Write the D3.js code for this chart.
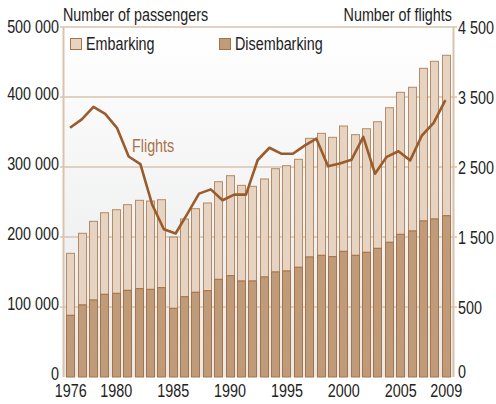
<!DOCTYPE html>
<html lang="en">
<head>
<meta charset="UTF-8">
<title>Passengers and flights</title>
<style>
  body { margin: 0; background: #fff; }
  svg text { font-family: "Liberation Sans", Arial, sans-serif; font-size: 17.5px; fill: #222; }
</style>
</head>
<body>
<div id="chart"></div>
<script src="https://d3js.org/d3.v7.min.js"></script>
<script>
const w = 496;
const h = 404;
const narrow = 0.82; // no condensed font here, so squeeze the glyphs

const years = d3.range(1976, 2010);
const disembarking = [88100, 102900, 110000, 118100, 119500, 123800, 126200, 125200, 127600, 98100,
  114700, 121000, 123300, 139500, 144700, 137100, 137100, 142900, 150000, 151400,
  156700, 171400, 173800, 171900, 179500, 173800, 178100, 183800, 192400, 203800,
  208600, 222900, 225700, 230400];
const embarking = [88600, 102400, 112400, 116600, 119500, 122400, 126200, 126200, 125700, 101900,
  111000, 119500, 125300, 139500, 142900, 136700, 135300, 140000, 147600, 150500,
  154300, 169600, 174300, 170500, 179100, 172400, 176600, 180900, 192300, 202900,
  205300, 218100, 225300, 229200];
// the flights line has one point less than the bars
const flights = [3060, 3180, 3360, 3260, 3060, 2650, 2540, 1965, 1610, 1550,
  1830, 2120, 2180, 2025, 2105, 2105, 2600, 2775, 2690, 2690,
  2805, 2905, 2510, 2550, 2605, 2930, 2405, 2645, 2725, 2595,
  2950, 3130, 3455];
const passTicks = [0, 100000, 200000, 300000, 400000, 500000];
const flightTicks = [0, 500, 1500, 2500, 3500, 4500];
const yearTicks = [1976, 1980, 1985, 1990, 1995, 2000, 2005, 2009];

const colEmb = '#e6d3c2';
const colDis = '#c09b79';
const colStroke = '#a87447';
const colLine = '#9a5c2c';
const colGrid = '#d9c3ae';

const locale = d3.formatLocale({decimal: ',', thousands: ' ', grouping: [3], currency: ['', '']});
const fmt = locale.format(',d');

const svg = d3.select('#chart').append('svg')
  .attr('width', w).attr('height', h);

const x = d3.scaleBand().domain(years).range([64, 453]).paddingInner(0.2).paddingOuter(0.2);
const y = d3.scaleLinear().domain([0, 500000]).range([377, 27]);
// right axis is not linear: 0..500 takes a full grid step
const yF = d3.scaleLinear().domain([0, 500, 4500]).range([y(0), y(100000), y(500000)]);
const bw = x.bandwidth();
const xF = d3.scalePoint().domain(d3.range(flights.length))
  .range([x(years[0]) + bw / 2 - 0.8, x(years[years.length - 1]) + bw / 2 - 0.8]);

// background gradient
const defs = svg.append('defs');
const grad = defs.append('linearGradient').attr('id', 'bg')
  .attr('x1', 0).attr('y1', 0).attr('x2', 0).attr('y2', 1);
grad.append('stop').attr('offset', '0%').attr('stop-color', '#ffffff');
grad.append('stop').attr('offset', '100%').attr('stop-color', '#e7e8e8');

svg.append('rect')
  .attr('x', 64).attr('y', y(500000))
  .attr('width', 389).attr('height', y(0) - y(500000))
  .attr('fill', 'url(#bg)');

// grid
svg.append('g').selectAll('line')
  .data(passTicks.filter(d => d > 0))
  .join('line')
  .attr('x1', 60).attr('x2', 457)
  .attr('y1', d => y(d)).attr('y2', d => y(d))
  .attr('stroke', colGrid).attr('stroke-width', 1.5);

// plot sides
svg.append('line').attr('x1', 63.5).attr('x2', 63.5).attr('y1', y(500000)).attr('y2', y(0))
  .attr('stroke', colGrid).attr('stroke-width', 2);
svg.append('line').attr('x1', 453.5).attr('x2', 453.5).attr('y1', y(500000)).attr('y2', y(0))
  .attr('stroke', colGrid).attr('stroke-width', 2);

// bars
const bars = svg.append('g').selectAll('g')
  .data(years)
  .join('g');
bars.append('rect')
  .attr('x', d => Math.round(x(d)) + 0.5)
  .attr('y', (d, i) => y(disembarking[i] + embarking[i]))
  .attr('width', Math.round(bw) - 1)
  .attr('height', (d, i) => y(disembarking[i]) - y(disembarking[i] + embarking[i]))
  .attr('fill', colEmb).attr('stroke', colStroke).attr('stroke-opacity', 0.8);
bars.append('rect')
  .attr('x', d => Math.round(x(d)) + 0.5)
  .attr('y', (d, i) => y(disembarking[i]))
  .attr('width', Math.round(bw) - 1)
  .attr('height', (d, i) => y(0) - y(disembarking[i]))
  .attr('fill', colDis).attr('stroke', colStroke);

// flights line
svg.append('path')
  .datum(flights)
  .attr('d', d3.line().x((d, i) => xF(i)).y(d => yF(d)))
  .attr('fill', 'none')
  .attr('stroke', colLine)
  .attr('stroke-width', 2.6)
  .attr('stroke-linejoin', 'round');

svg.append('text')
  .attr('x', 132).attr('y', 152)
  .style('fill', '#a8734b')
  .text('Flights');

// left axis
const yAxis = d3.axisLeft(y).tickValues(passTicks).tickSize(0).tickFormat(fmt);
svg.append('g')
  .attr('transform', 'translate(60,0)')
  .call(yAxis)
  .call(g => g.select('.domain').remove())
  .call(g => g.selectAll('text')
    .attr('x', -1)
    .attr('dy', d => d === 500000 ? '0.3em' : '0.12em')
    .style('font-size', '17.5px')
    .style('font-family', null));

// right axis
const yAxisR = d3.axisRight(yF).tickValues(flightTicks).tickSize(0).tickFormat(fmt);
svg.append('g')
  .attr('transform', 'translate(457,0)')
  .call(yAxisR)
  .call(g => g.select('.domain').remove())
  .call(g => g.selectAll('text')
    .attr('x', 1)
    .attr('dy', d => d === 0 ? '0.05em' : '0.38em')
    .style('font-size', '17.5px')
    .style('font-family', null));

// bottom axis
const xAxis = d3.axisBottom(x).tickValues(yearTicks).tickSize(0);
svg.append('g')
  .attr('transform', `translate(0,${y(0)})`)
  .call(xAxis)
  .call(g => g.select('.domain').remove())
  .call(g => g.selectAll('text')
    .attr('y', 8)
    .style('font-size', '17.5px')
    .style('font-family', null));

// titles
svg.append('text').attr('x', 63).attr('y', 21).text('Number of passengers');
svg.append('text').attr('x', 452).attr('y', 21).attr('text-anchor', 'end').text('Number of flights');

// legend
const legendItems = [
  {label: 'Embarking', color: colEmb, x: 70},
  {label: 'Disembarking', color: colDis, x: 219}
];
const legend = svg.append('g').selectAll('g')
  .data(legendItems)
  .join('g')
  .attr('transform', d => `translate(${d.x},38)`);
legend.append('rect')
  .attr('x', 0.5).attr('y', 0.5)
  .attr('width', 11).attr('height', 11)
  .attr('fill', d => d.color).attr('stroke', colStroke);
legend.append('text')
  .attr('x', 16).attr('y', 12)
  .text(d => d.label);

// condense every label around its own anchor point
svg.selectAll('text').each(function() {
  const ax = +(this.getAttribute('x') || 0);
  d3.select(this)
    .attr('transform', `matrix(${narrow},0,0,1,${(ax * (1 - narrow)).toFixed(2)},0)`);
});
</script>
</body>
</html>
